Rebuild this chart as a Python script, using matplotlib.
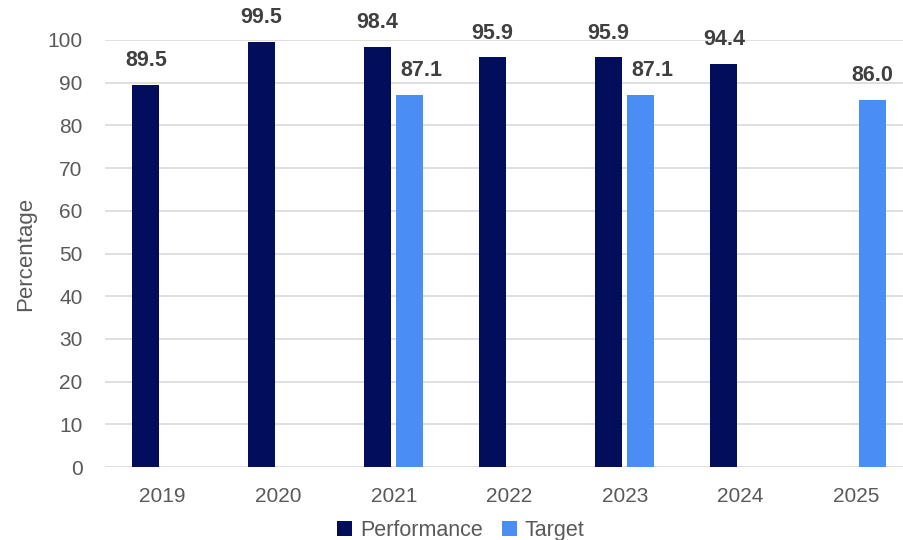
import numpy as np
import matplotlib
matplotlib.use("Agg")
import matplotlib.pyplot as plt

years = ["2019", "2020", "2021", "2022", "2023", "2024", "2025"]
performance = [89.5, 99.5, 98.4, 95.9, 95.9, 94.4, None]
target = [None, None, 87.1, None, 87.1, None, 86.0]

NAVY = "#020E5B"
BLUE = "#4A8EF5"

plt.rcParams["font.family"] = ["Liberation Sans", "DejaVu Sans"]

fig = plt.figure(figsize=(9.04, 5.4), dpi=100)
ax = fig.add_axes([0.116, 0.135, 0.895, 0.791])

x = np.arange(len(years))
width = 0.233
off = 0.145


def draw(vals, shift, color, label, others=None):
    idx = [i for i, v in enumerate(vals) if v is not None]
    xs = [x[i] + shift for i in idx]
    vs = [vals[i] for i in idx]
    bars = ax.bar(xs, vs, width, color=color, label=label, zorder=3)
    for i, b, v in zip(idx, bars, vs):
        # nudge label right when it sits next to a taller neighbouring bar
        dx = 8 if others is not None and others[i] is not None else 0
        ax.annotate(f"{v:.1f}", (b.get_x() + b.get_width() / 2, v),
                    xytext=(dx, 10), textcoords="offset points",
                    ha="center", va="bottom", fontsize=15.5, fontweight="bold",
                    color="#404040")


draw(performance, -off, NAVY, "Performance")
draw(target, off - 0.007, BLUE, "Target", others=performance)

ax.set_xlim(-0.5, len(years) - 0.5)
ax.set_ylim(0, 100)
ax.set_yticks(range(0, 101, 10))
ax.set_xticks(x)
ax.set_xticklabels(years)
ax.tick_params(axis="both", length=0, labelsize=15, colors="#595959")
ax.tick_params(axis="x", pad=14)
ax.tick_params(axis="y", pad=16)
ax.yaxis.grid(True, color="#d9d9d9", linewidth=1.2, zorder=0)
for s in ax.spines.values():
    s.set_visible(False)
ax.set_ylabel("Percentage", fontsize=16, color="#595959", labelpad=8)

ax.legend(loc="upper center", bbox_to_anchor=(0.44, -0.125), ncol=2,
          frameon=False, fontsize=15.5, handlelength=0.7, handleheight=0.7,
          columnspacing=0.9, handletextpad=0.35, labelcolor="#595959",
          borderaxespad=0, borderpad=0)

fig.savefig("out.png", dpi=100)
